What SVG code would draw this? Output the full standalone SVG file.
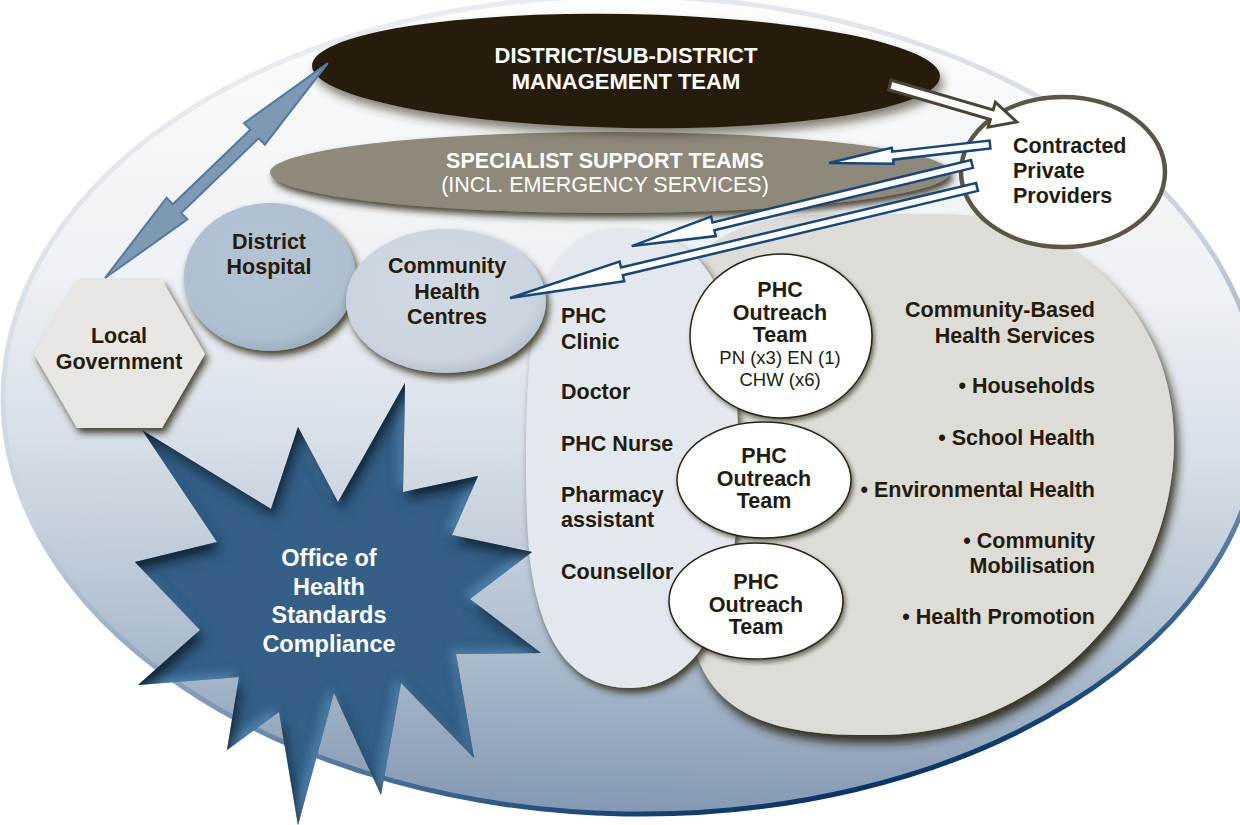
<svg xmlns="http://www.w3.org/2000/svg" width="1240" height="825" viewBox="0 0 1240 825">
  <defs>
    <style>
      .t { font-family: "Liberation Sans", Arial, sans-serif; font-weight: bold; fill: #241b0c; font-size: 21.5px; }
      .tr { font-family: "Liberation Sans", Arial, sans-serif; fill: #241b0c; font-size: 18.5px; }
      .w { font-family: "Liberation Sans", Arial, sans-serif; font-weight: bold; fill: #ffffff; }
      .mid { text-anchor: middle; }
      .end { text-anchor: end; }
      .outreach { fill: #ffffff; stroke: #2b2212; stroke-width: 1.5; }
      .blueArrow { fill: #ffffff; stroke: #17467a; stroke-width: 2.5; stroke-linejoin: miter; }
    </style>
    <linearGradient id="bgFill" x1="0" y1="0" x2="0" y2="1">
      <stop offset="0" stop-color="#fcfdfd"/>
      <stop offset="0.35" stop-color="#eef1f5"/>
      <stop offset="0.55" stop-color="#d7dfe7"/>
      <stop offset="0.78" stop-color="#b1c0d0"/>
      <stop offset="1" stop-color="#8398b2"/>
    </linearGradient>
    <linearGradient id="bgRim" x1="0.2" y1="0" x2="0.6" y2="1">
      <stop offset="0" stop-color="#eef1f4"/>
      <stop offset="0.5" stop-color="#c8d3de"/>
      <stop offset="0.75" stop-color="#7d98b5"/>
      <stop offset="0.92" stop-color="#2d5b88"/>
      <stop offset="1" stop-color="#0a3566"/>
    </linearGradient>
    <radialGradient id="dhFill" cx="0.45" cy="0.4" r="0.6">
      <stop offset="0" stop-color="#b3c3d3"/>
      <stop offset="0.85" stop-color="#afbfcf"/>
      <stop offset="1" stop-color="#9fb0c2"/>
    </radialGradient>
    <radialGradient id="chcFill" cx="0.45" cy="0.4" r="0.6">
      <stop offset="0" stop-color="#d1d9e2"/>
      <stop offset="0.85" stop-color="#cbd4de"/>
      <stop offset="1" stop-color="#b9c4d0"/>
    </radialGradient>
    <filter id="drop" x="-20%" y="-20%" width="140%" height="150%">
      <feGaussianBlur in="SourceAlpha" stdDeviation="3.5"/>
      <feOffset dx="3" dy="5" result="b"/>
      <feFlood flood-color="#2e2614" flood-opacity="0.85"/>
      <feComposite in2="b" operator="in"/>
      <feMerge><feMergeNode/><feMergeNode in="SourceGraphic"/></feMerge>
    </filter>
    <filter id="dropSoft" x="-20%" y="-30%" width="140%" height="170%">
      <feGaussianBlur in="SourceAlpha" stdDeviation="5"/>
      <feOffset dx="3" dy="7" result="b"/>
      <feFlood flood-color="#3a3322" flood-opacity="0.6"/>
      <feComposite in2="b" operator="in"/>
      <feMerge><feMergeNode/><feMergeNode in="SourceGraphic"/></feMerge>
    </filter>
    <filter id="dropBig" x="-20%" y="-20%" width="140%" height="150%">
      <feGaussianBlur in="SourceAlpha" stdDeviation="5"/>
      <feOffset dx="4" dy="8" result="b"/>
      <feFlood flood-color="#2a2312" flood-opacity="0.9"/>
      <feComposite in2="b" operator="in"/>
      <feMerge><feMergeNode/><feMergeNode in="SourceGraphic"/></feMerge>
    </filter>
    <filter id="dropSmall" x="-20%" y="-20%" width="140%" height="150%">
      <feGaussianBlur in="SourceAlpha" stdDeviation="2"/>
      <feOffset dx="2" dy="3" result="b"/>
      <feFlood flood-color="#2e2614" flood-opacity="0.6"/>
      <feComposite in2="b" operator="in"/>
      <feMerge><feMergeNode/><feMergeNode in="SourceGraphic"/></feMerge>
    </filter>
    <filter id="starShade" x="-10%" y="-10%" width="120%" height="120%">
      <feOffset in="SourceAlpha" dx="4" dy="9" result="off"/>
      <feGaussianBlur in="off" stdDeviation="6" result="blur"/>
      <feComposite in="SourceAlpha" in2="blur" operator="out" result="edge"/>
      <feFlood flood-color="#0f1d26" flood-opacity="0.95"/>
      <feComposite in2="edge" operator="in" result="shadow"/>
      <feOffset in="SourceAlpha" dx="-5" dy="-4" result="off2"/>
      <feGaussianBlur in="off2" stdDeviation="5" result="blur2"/>
      <feComposite in="SourceAlpha" in2="blur2" operator="out" result="edge2"/>
      <feFlood flood-color="#5a8cb8" flood-opacity="0.7"/>
      <feComposite in2="edge2" operator="in" result="light"/>
      <feMerge><feMergeNode in="SourceGraphic"/><feMergeNode in="light"/><feMergeNode in="shadow"/></feMerge>
    </filter>
  </defs>

  <rect width="1240" height="825" fill="#ffffff"/>

  <!-- district boundary -->
  <g id="district-area">
    <ellipse cx="632" cy="405" rx="629" ry="409" transform="rotate(1 632 405)" fill="url(#bgFill)" stroke="url(#bgRim)" stroke-width="5"/>
  </g>

  <!-- community-based health services -->
  <g id="community-services" filter="url(#dropBig)">
    <path d="M940,214 C1070,214 1174,310 1174,440 C1174,600 1040,735 880,735 C760,737 690,710 688,600 L688,300 C688,230 760,214 840,214 Z" fill="#dddcd7"/>
  </g>

  <!-- PHC clinic -->
  <g id="phc-clinic" filter="url(#drop)">
    <path d="M615,229 C680,229 712,262 725,310 C738,360 742,470 735,540 C728,600 712,640 690,662 C672,680 652,688 630,688 C570,688 540,640 530,560 C524,500 524,380 535,320 C548,260 575,229 615,229 Z" fill="#e3e8ee"/>
  </g>

  <g id="outreach-1" filter="url(#dropSmall)">
    <ellipse cx="781" cy="336" rx="91" ry="82" class="outreach"/>
  </g>
  <g id="outreach-2" filter="url(#dropSmall)">
    <ellipse cx="764" cy="480" rx="87" ry="58" class="outreach"/>
  </g>
  <g id="outreach-3" filter="url(#dropSmall)">
    <ellipse cx="756" cy="601" rx="87" ry="58" class="outreach"/>
  </g>

  <g id="specialist-teams" filter="url(#drop)">
    <ellipse cx="610" cy="172.5" rx="340" ry="40.5" fill="#8f897c"/>
  </g>

  <g id="management-team" filter="url(#dropSoft)">
    <ellipse cx="626" cy="71" rx="314" ry="57" transform="rotate(1 626 71)" fill="#281f0c"/>
  </g>

  <g id="district-hospital" filter="url(#drop)">
    <ellipse cx="270" cy="277" rx="86" ry="74" fill="url(#dhFill)"/>
  </g>

  <g id="community-health-centres" filter="url(#drop)">
    <ellipse cx="446" cy="301" rx="100" ry="72" fill="url(#chcFill)"/>
  </g>

  <g id="local-government" filter="url(#drop)">
    <polygon points="77,280 162,280 205,354 162,428 77,428 34,354" fill="#e7e6e3"/>
  </g>

  <g id="ohsc">
    <polygon filter="url(#starShade)" fill="#365f86" points="142,430 271,509 298,427 338,502 405,383 403,492 478,476 452,535 532,552 470,599 541,653 456,654 474,758 401,683 381,795 334,693 298,825 279,712 227,750 239,677 138,685 200,630 135,562 217,542"/>
  </g>

  <g id="contracted-providers">
    <ellipse cx="1063" cy="172" rx="102" ry="75" fill="#ffffff" stroke="#5d5647" stroke-width="4.5"/>
  </g>

  <!-- connectors -->
  <g id="connectors">
    <polygon transform="translate(105,278) rotate(-43.95)" fill="#7e99b4" stroke="#55799c" stroke-width="2" points="0,0 100,-15 100,-6 207.6,-6 207.6,-15 309.6,0 207.6,15 207.6,6 100,6 100,15"/>
    <polygon transform="translate(890,85) rotate(16.24)" fill="#ffffff" stroke="#4b4434" stroke-width="3" points="0,-5 106,-5 106,-13 132,0 106,13 106,5 0,5"/>
    <polygon class="blueArrow" transform="translate(990,144.5) rotate(173.45)" points="0,-4 98,-4 98,-8 162,0 98,8 98,4 0,4"/>
    <polygon class="blueArrow" transform="translate(972,164) rotate(166.44)" points="0,-4 266,-4 266,-10 350,0 266,10 266,4 0,4"/>
    <polygon class="blueArrow" transform="translate(977,187) rotate(166.63)" points="0,-4 365,-4 365,-10 480,0 365,10 365,4 0,4"/>
  </g>

  <!-- labels -->
  <g id="labels">
    <text class="w mid" x="626" y="63" font-size="22">DISTRICT/SUB-DISTRICT</text>
    <text class="w mid" x="626" y="89" font-size="22">MANAGEMENT TEAM</text>
    <text class="w mid" x="605" y="168" font-size="21.5">SPECIALIST SUPPORT TEAMS</text>
    <text class="mid" x="605" y="192" font-size="21.5" font-family="Liberation Sans, Arial, sans-serif" fill="#ffffff">(INCL. EMERGENCY SERVICES)</text>

    <text class="t" x="1013" y="153">Contracted</text>
    <text class="t" x="1013" y="178">Private</text>
    <text class="t" x="1013" y="203">Providers</text>

    <text class="t mid" x="269" y="249">District</text>
    <text class="t mid" x="269" y="274">Hospital</text>

    <text class="t mid" x="447" y="273">Community</text>
    <text class="t mid" x="447" y="298.5">Health</text>
    <text class="t mid" x="447" y="324">Centres</text>

    <text class="t mid" x="119" y="343">Local</text>
    <text class="t mid" x="119" y="369">Government</text>

    <text class="w mid" x="329" y="566" font-size="23.5">Office of</text>
    <text class="w mid" x="329" y="595" font-size="23.5">Health</text>
    <text class="w mid" x="329" y="623" font-size="23.5">Standards</text>
    <text class="w mid" x="329" y="652" font-size="23.5">Compliance</text>

    <text class="t" x="561" y="323">PHC</text>
    <text class="t" x="561" y="349">Clinic</text>
    <text class="t" x="561" y="399">Doctor</text>
    <text class="t" x="561" y="451">PHC Nurse</text>
    <text class="t" x="561" y="502">Pharmacy</text>
    <text class="t" x="561" y="527">assistant</text>
    <text class="t" x="561" y="579">Counsellor</text>

    <text class="t mid" x="780" y="297" font-size="19">PHC</text>
    <text class="t mid" x="780" y="319.5" font-size="19">Outreach</text>
    <text class="t mid" x="780" y="342" font-size="19">Team</text>
    <text class="tr mid" x="780" y="364">PN (x3) EN (1)</text>
    <text class="tr mid" x="780" y="385.5">CHW (x6)</text>

    <text class="t mid" x="764" y="463" font-size="19">PHC</text>
    <text class="t mid" x="764" y="486" font-size="19">Outreach</text>
    <text class="t mid" x="764" y="508" font-size="19">Team</text>

    <text class="t mid" x="756" y="589" font-size="19">PHC</text>
    <text class="t mid" x="756" y="611.5" font-size="19">Outreach</text>
    <text class="t mid" x="756" y="634" font-size="19">Team</text>

    <text class="t end" x="1095" y="317">Community-Based</text>
    <text class="t end" x="1095" y="343">Health Services</text>
    <text class="t end" x="1095" y="393">• Households</text>
    <text class="t end" x="1095" y="445">• School Health</text>
    <text class="t end" x="1095" y="497">• Environmental Health</text>
    <text class="t end" x="1095" y="548">• Community</text>
    <text class="t end" x="1095" y="573">Mobilisation</text>
    <text class="t end" x="1095" y="624">• Health Promotion</text>
  </g>
</svg>
